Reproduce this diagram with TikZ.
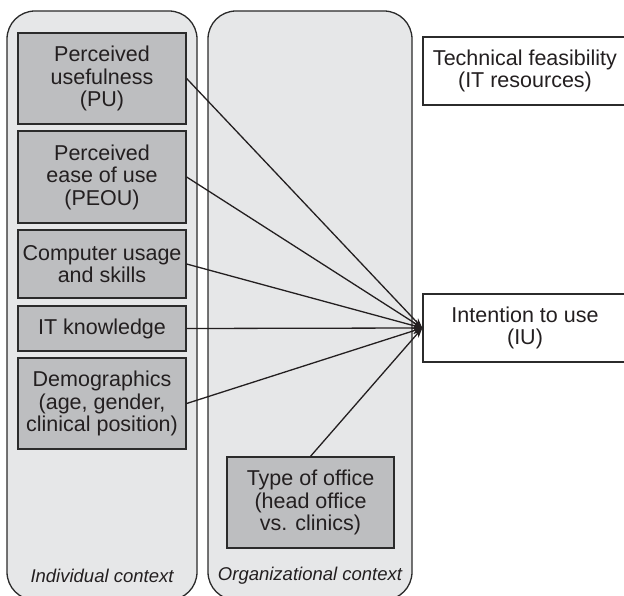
\documentclass[tikz,border=0pt]{standalone}
\usepackage{fontspec}
\setmainfont{Liberation Sans}
\usetikzlibrary{arrows.meta}
\definecolor{panelfill}{HTML}{E6E7E8}
\definecolor{boxfill}{HTML}{BDBEC0}
\definecolor{edge}{HTML}{2B2B2B}
\definecolor{ink}{HTML}{231F20}
\tikzset{
  panel/.style={draw=edge, line width=1.3pt, fill=panelfill, rounded corners=28pt},
  factor/.style={draw=edge, line width=1.3pt, fill=boxfill, inner sep=0pt, align=center,
    text=ink, font=\fontsize{21.5pt}{22.5pt}\selectfont},
  outcome/.style={draw=edge, line width=1.3pt, fill=white, inner sep=0pt, align=center,
    text=ink, font=\fontsize{21.5pt}{22.5pt}\selectfont},
  ctxlabel/.style={text=ink, font=\fontsize{18.5pt}{20pt}\selectfont\itshape},
  link/.style={draw=ink, line width=1.3pt, -{Stealth[length=10pt,width=7pt]}}
}
\begin{document}
\begin{tikzpicture}[x=1pt,y=-1pt]
\useasboundingbox (0,0) rectangle (624,596);
% panels
\path[panel] (7,11) rectangle (197,600);
\path[panel] (208,11) rectangle (412,600);
% factor boxes (individual)
\node[factor, minimum width=168pt, minimum height=91pt] (pu) at (102,78.5) {Perceived\\usefulness\\(PU)};
\node[factor, minimum width=168pt, minimum height=92pt] (peou) at (102,177) {Perceived\\ease of use\\(PEOU)};
\node[factor, minimum width=168pt, minimum height=68pt] (cu) at (102,264) {Computer usage\\and skills};
\node[factor, minimum width=168pt, minimum height=45pt] (itk) at (102,328.5) {IT knowledge};
\node[factor, minimum width=168pt, minimum height=91pt] (demo) at (102,403.5) {Demographics\\(age, gender,\\clinical position)};
% organizational
\node[factor, minimum width=167pt, minimum height=91pt] (office) at (310.5,502.5) {Type of office\\(head office\\vs. clinics)};
% outcomes
\node[outcome, minimum width=204pt, minimum height=68pt] (tech) at (525,71) {Technical feasibility\\(IT resources)};
\node[outcome, minimum width=204pt, minimum height=68pt] (iu) at (525,328) {Intention to use\\(IU)};
% context labels
\node[ctxlabel] (indl) at (102,576) {Individual context};
\node[ctxlabel] (orgl) at (310,576) {Organizational context};
% links
\draw[link] (pu.east) -- (iu.west);
\draw[link] (peou.east) -- (iu.west);
\draw[link] (cu.east) -- (iu.west);
\draw[link] (itk.east) -- (iu.west);
\draw[link] (demo.east) -- (iu.west);
\draw[link] (office.north) -- (iu.west);
\end{tikzpicture}
\end{document}
